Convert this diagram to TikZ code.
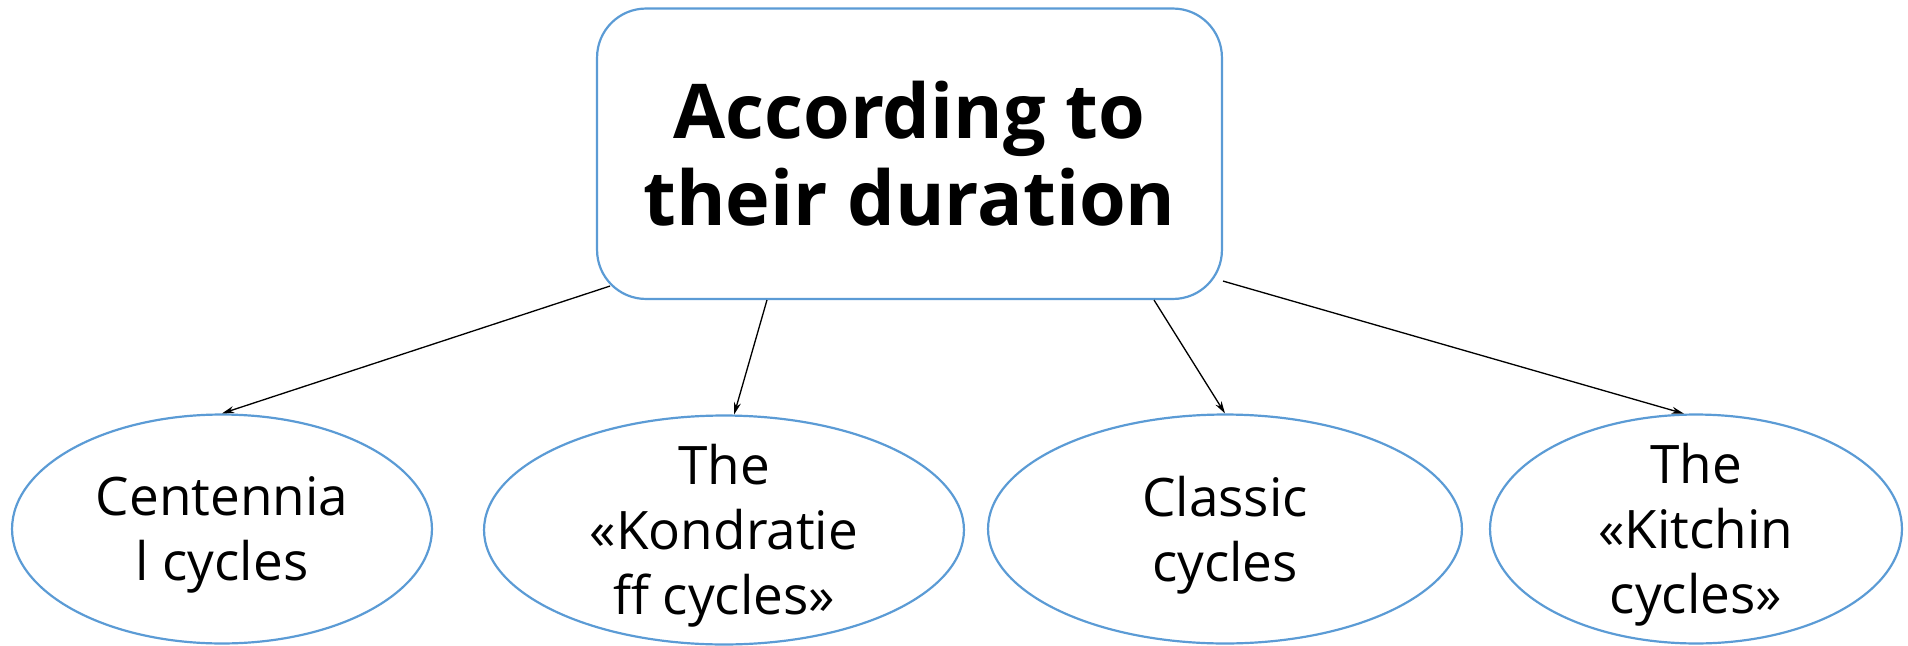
\documentclass[tikz,border=0pt]{standalone}
\usepackage{fontspec}
\setmainfont{Open Sans}
\usetikzlibrary{shapes.geometric}
\usetikzlibrary{arrows.meta}
\definecolor{cycblue}{HTML}{5B9BD5}
\tikzset{headbox/.style={
  draw=cycblue,line width=1.25pt,rounded corners=0.98cm,
  minimum width=12.5cm,minimum height=5.81cm,inner sep=0pt,
  align=center,font=\fontsize{43}{49.5}\selectfont\bfseries
}}
\tikzset{cyc/.style={
  ellipse,draw=cycblue,line width=1.25pt,
  minimum height=4.58cm,inner sep=0pt
}}
\tikzset{cyctext/.style={
  align=center,inner sep=0pt,yshift=-0.12cm,
  font=\fontsize{30.2}{37}\selectfont
}}
\tikzset{arr/.style={
  -{Stealth[length=7pt,width=4pt]},line width=0.75pt
}}

\begin{document}
\begin{tikzpicture}[x=0.02cm,y=-0.02cm]
    \useasboundingbox (0,0) rectangle (1908,646);
    % Heading
    \node[headbox] (dur) at (909.5,153.75) {According to\\their duration};
    % Cycles
    \node[cyc,minimum width=8.4cm] (cent) at (222,529) {};
    \node[cyc,minimum width=9.6cm] (kond) at (724,530) {};
    \node[cyc,minimum width=9.48cm] (clas) at (1225,529) {};
    \node[cyc,minimum width=8.24cm] (kit) at (1696,529) {};
    \node[cyctext] at (cent) {Centennia\\l cycles};
    \node[cyctext] at (kond) {The\\«Kondratie\\ff cycles»};
    \node[cyctext] at (clas) {Classic\\cycles};
    \node[cyctext] at (kit) {The\\«Kitchin\\cycles»};
    % Arrows
    \draw[arr] ([shift={(14,-14)}]dur.south west) -- (cent.north);
    \draw[arr] ([shift={(171,0)}]dur.south west) -- (kond.85);
    \draw[arr] ([shift={(-69,0)}]dur.south east) -- (clas.north);
    \draw[arr] ([shift={(0,-19)}]dur.south east) -- (kit.96);
  \end{tikzpicture}
\end{document}
